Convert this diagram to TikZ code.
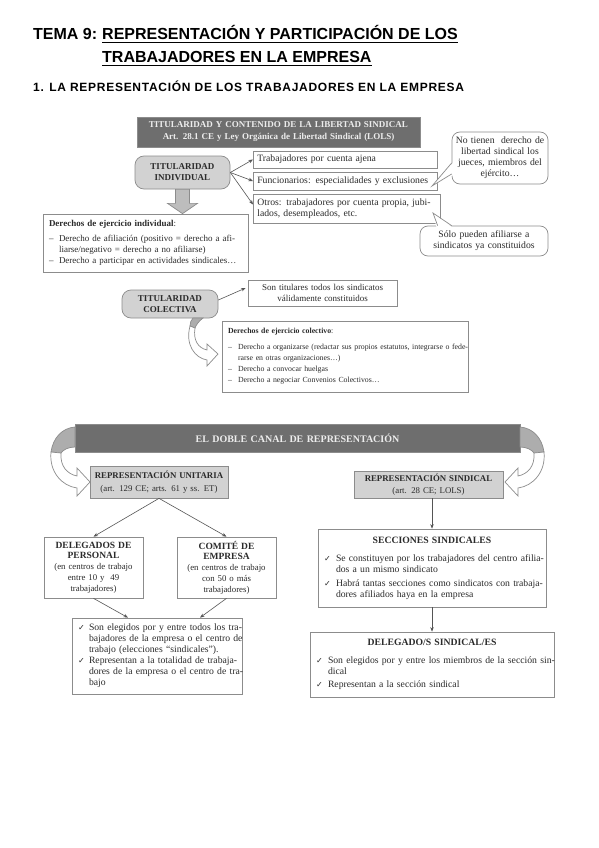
\documentclass[tikz,border=0pt]{standalone}
\usepackage{fontspec}
\usepackage{graphicx}
\setmainfont{Liberation Serif}
\newfontfamily\titlefont{Liberation Sans}
\newfontfamily\headfont[LetterSpace=6]{Liberation Sans}
\newfontfamily\symfont{DejaVu Sans}
\usetikzlibrary{arrows.meta,calc}
\definecolor{bordc}{HTML}{8C8C8C}
\definecolor{txtc}{HTML}{2B2B2B}
\definecolor{darkc}{HTML}{6E6E6E}
\definecolor{lightc}{HTML}{D2D2D2}
\definecolor{arrc}{HTML}{555555}
\definecolor{backc}{HTML}{ADADAD}
\newcommand\bodyf{\fontsize{9.7}{11}\selectfont}
\newcommand\ulx[1]{\setbox0=\hbox{#1}\rlap{\rule[-3pt]{\wd0}{1.3pt}}\box0}
\newcommand\dsh{\makebox[10pt][l]{–}}
\newcommand\fl[2]{\makebox[\dimexpr\hsize-#1\relax][s]{#2}}
\newcommand\cks{{\symfont\fontsize{8}{8}\selectfont ✓}}
\newcommand\ckl[2][12pt]{\makebox[#1][l]{\cks}\makebox[\dimexpr\hsize-#1\relax][s]{#2}}
\newcommand\ckn[2][12pt]{\makebox[#1][l]{\cks}#2}
\tikzset{
  bx/.style={draw=bordc, line width=0.7pt, fill=white, inner sep=0pt, font=\bodyf, text=txtc},
  gbx/.style={bx, fill=lightc},
  hdr/.style={draw=bordc, line width=0.7pt, fill=darkc, inner sep=0pt, text=white!93!black, align=center},
  rbox/.style={draw=bordc, line width=0.7pt, fill=lightc, rounded corners=9pt, inner sep=0pt, align=center, text=txtc, font=\fontsize{9}{11}\selectfont\bfseries},
  callout/.style={draw=bordc, line width=0.7pt, fill=white, rounded corners=8pt, inner sep=0pt, align=center, text=txtc, font=\bodyf},
  cl/.style={draw=bordc, line width=0.7pt},
  arr/.style={draw=arrc, line width=0.6pt, -{Stealth[length=4.5pt,width=3.5pt]}},
  blockarr/.style={draw=bordc, line width=0.7pt, fill=lightc!90!black},
  ribback/.style={draw=bordc, line width=0.7pt, fill=backc},
  ribfront/.style={draw=bordc, line width=0.7pt, fill=white},
  plain/.style={inner sep=0pt, anchor=base west}
}
\begin{document}
\begin{tikzpicture}[x=1pt,y=-1pt]
\useasboundingbox[fill=white] (0,0) rectangle (599,848);
% title
\node[plain, font=\titlefont\bfseries\fontsize{16}{19}\selectfont] (t1) at (33,40) {TEMA 9:};
\node[plain, font=\titlefont\bfseries\fontsize{16}{19}\selectfont] (t2) at (102,40) {\ulx{REPRESENTACIÓN Y PARTICIPACIÓN DE LOS}};
\node[plain, font=\titlefont\bfseries\fontsize{16}{19}\selectfont] (t3) at (102,63) {\ulx{TRABAJADORES EN LA EMPRESA}};
\node[plain, font=\headfont\bfseries\fontsize{12}{14}\selectfont] (h1) at (33,92) {1. LA REPRESENTACIÓN DE LOS TRABAJADORES EN LA EMPRESA};
% section 1
\node[hdr, minimum width=283pt, minimum height=30pt, text width=283pt, font=\fontsize{9}{12}\selectfont\bfseries] (hd) at (278.5,132) {TITULARIDAD Y CONTENIDO DE LA LIBERTAD SINDICAL\\Art. 28.1 CE y Ley Orgánica de Libertad Sindical (LOLS)};
\node[rbox, minimum width=95pt, minimum height=33pt, text width=95pt] (ti) at (182.5,172.5) {TITULARIDAD\\INDIVIDUAL};
\node[bx, anchor=west, minimum width=184pt, minimum height=17pt, text width=176pt, align=left] (b1) at (253,159.5) {Trabajadores por cuenta ajena};
\node[bx, anchor=west, minimum width=184pt, minimum height=18pt, text width=176pt, align=left] (b2) at (253,181) {Funcionarios: especialidades y exclusiones};
\node[bx, anchor=west, minimum width=187pt, minimum height=29pt, text width=179pt, align=left] (b3) at (253,208.5) {\fl{0pt}{Otros: trabajadores por cuenta propia, jubi-}\\lados, desempleados, etc.};
\draw[arr] (ti.east) -- (b1.west);
\draw[arr] (ti.east) -- (b2.west);
\draw[arr] (ti.east) -- ($(b3.west)+(0,-4)$);
% callouts
\node[callout, minimum width=96pt, minimum height=52pt, text width=96pt] (c1) at (500,158) {No tienen~ derecho de\\libertad sindical los\\jueces, miembros del\\ejército…};
\coordinate (c1tip) at (432,186);
\fill[white] ($(c1.west)+(2,4)$) -- (c1tip) -- ($(c1.west)+(2,17)$) -- cycle;
\draw[cl] ($(c1.west)+(0,5)$) -- (c1tip) -- ($(c1.west)+(0,16)$);
\node[callout, minimum width=128pt, minimum height=30pt, text width=128pt] (c2) at (484,241) {Sólo pueden afiliarse a\\sindicatos ya constituidos};
\coordinate (c2tip) at (433,213);
\fill[white] ($(c2.north west)+(17,2)$) -- (c2tip) -- ($(c2.north west)+(33,2)$) -- cycle;
\draw[cl] ($(c2.north west)+(18,0)$) -- (c2tip) -- ($(c2.north west)+(32,0)$);
% individual rights
\node[bx, minimum width=205pt, minimum height=58pt, text width=193pt, align=left, font=\fontsize{9}{11}\selectfont] (di) at (145.5,243) {\textbf{Derechos de ejercicio individual}:\\[4pt]\dsh\fl{10pt}{Derecho de afiliación (positivo = derecho a afi-}\\\hspace*{10pt}liarse/negativo = derecho a no afiliarse)\\\dsh Derecho a participar en actividades sindicales…};
\filldraw[blockarr] ($(ti.south)+(-7,0)$) -- ($(ti.south)+(-7,14)$) -- ($(ti.south)+(-15,14)$) -- (ti.south |- di.north) -- ($(ti.south)+(15,14)$) -- ($(ti.south)+(7,14)$) -- ($(ti.south)+(7,0)$) -- cycle;
% collective
\node[rbox, minimum width=96pt, minimum height=28pt, text width=96pt] (tc) at (170,304) {TITULARIDAD\\COLECTIVA};
\node[bx, minimum width=149pt, minimum height=26pt, text width=149pt, align=center, font=\fontsize{9}{11}\selectfont] (son) at (322.5,293) {Son titulares todos los sindicatos\\válidamente constituidos};
\draw[arr] ($(tc.east)+(0,-4)$) -- ($(son.west)+(-2,-5)$);
\node[bx, minimum width=246pt, minimum height=71pt, text width=234pt, align=left, font=\fontsize{7.8}{11}\selectfont] (dc) at (345,356.5) {\textbf{Derechos de ejercicio colectivo}:\\[5pt]\dsh\fl{10pt}{Derecho a organizarse (redactar sus propios estatutos, integrarse o fede-}\\\hspace*{10pt}rarse en otras organizaciones…)\\\dsh Derecho a convocar huelgas\\\dsh Derecho a negociar Convenios Colectivos…};
\filldraw[ribback] (193,318) -- (203,318) .. controls (199,321) and (196,325) .. (195,328) -- (190,326) .. controls (190,323) and (191,320) .. (193,318) -- cycle;
\filldraw[ribfront] (190,326) .. controls (185,345) and (195,358) .. (207,360) -- (207,366) -- (218,354) -- (207,344) -- (207,350) .. controls (198,348) and (193,340) .. (195,328) -- cycle;
% section 2
\node[hdr, minimum width=445pt, minimum height=28pt, text width=445pt, font=\fontsize{10}{12}\selectfont\bfseries] (ban) at (297.5,438) {EL DOBLE CANAL DE REPRESENTACIÓN};
\filldraw[ribback] (75,427) .. controls (62,428) and (53,438) .. (51,452) -- (61,453) .. controls (63,450) and (68,447) .. (75,447) -- cycle;
\filldraw[ribfront] (51,452) .. controls (49,472) and (62,486) .. (77,488) -- (77,496) -- (90,482) -- (77,468) -- (77,476) .. controls (67,474) and (60,466) .. (61,453) -- cycle;
\begin{scope}[xshift=595pt, xscale=-1]
\filldraw[ribback] (75,427) .. controls (62,428) and (53,438) .. (51,452) -- (61,453) .. controls (63,450) and (68,447) .. (75,447) -- cycle;
\filldraw[ribfront] (51,452) .. controls (49,472) and (62,486) .. (77,488) -- (77,496) -- (90,482) -- (77,468) -- (77,476) .. controls (67,474) and (60,466) .. (61,453) -- cycle;
\end{scope}
\node[gbx, minimum width=138pt, minimum height=32pt, text width=138pt, align=center, font=\fontsize{8.8}{12.5}\selectfont] (uni) at (159,482) {\textbf{REPRESENTACIÓN UNITARIA}\\(art. 129 CE; arts. 61 y ss. ET)};
\node[gbx, minimum width=149pt, minimum height=27pt, text width=149pt, align=center, font=\fontsize{8.8}{12}\selectfont] (sin) at (428.5,484.5) {\textbf{REPRESENTACIÓN SINDICAL}\\(art. 28 CE; LOLS)};
\node[bx, minimum width=99pt, minimum height=61pt, text width=99pt, align=center, font=\fontsize{8.8}{10.8}\selectfont] (del) at (93.5,567.5) {\textbf{\fontsize{9.5}{10.8}\selectfont DELEGADOS DE}\\\textbf{\fontsize{9.5}{10.8}\selectfont PERSONAL}\\(en centros de trabajo\\entre 10 y~~49\\trabajadores)};
\node[bx, minimum width=99pt, minimum height=61pt, text width=99pt, align=center, font=\fontsize{8.8}{10.8}\selectfont] (com) at (226.5,567.5) {\textbf{\fontsize{9.5}{10.8}\selectfont COMITÉ DE}\\\textbf{\fontsize{9.5}{10.8}\selectfont EMPRESA}\\(en centros de trabajo\\con 50 o más\\trabajadores)};
\draw[arr] (uni.south) -- (del.north);
\draw[arr] (uni.south) -- (com.north);
\node[bx, minimum width=170pt, minimum height=76pt, text width=158pt, align=left] (chk) at (157,656) {\ckl[11pt]{Son elegidos por y entre todos los tra-}\\\hspace*{11pt}\fl{11pt}{bajadores de la empresa o el centro de}\\\hspace*{11pt}trabajo (elecciones “sindicales”).\\\ckl[11pt]{Representan a la totalidad de trabaja-}\\\hspace*{11pt}\fl{11pt}{dores de la empresa o el centro de tra-}\\\hspace*{11pt}bajo};
\draw[arr] (del.south) -- ($(chk.north)+(-29,0)$);
\draw[arr] (com.south) -- ($(chk.north)+(43,0)$);
\node[bx, minimum width=228pt, minimum height=78pt, text width=216pt, align=left] (sec) at (432,568) {\makebox[\hsize]{\textbf{SECCIONES SINDICALES}}\\[7pt]\ckl{Se constituyen por los trabajadores del centro afilia-}\\\hspace*{12pt}dos a un mismo sindicato\\[3pt]\ckl{Habrá tantas secciones como sindicatos con trabaja-}\\\hspace*{12pt}dores afiliados haya en la empresa};
\node[bx, minimum width=244pt, minimum height=65pt, text width=232pt, align=left] (dss) at (432,664.5) {\makebox[\hsize]{\textbf{DELEGADO/S SINDICAL/ES}}\\[7pt]\ckl{Son elegidos por y entre los miembros de la sección sin-}\\\hspace*{12pt}dical\\[2pt]\ckn{Representan a la sección sindical}};
\draw[arr] (sin.south -| sec.north) -- (sec.north);
\draw[arr] (sec.south) -- (dss.north);
\end{tikzpicture}
\end{document}
